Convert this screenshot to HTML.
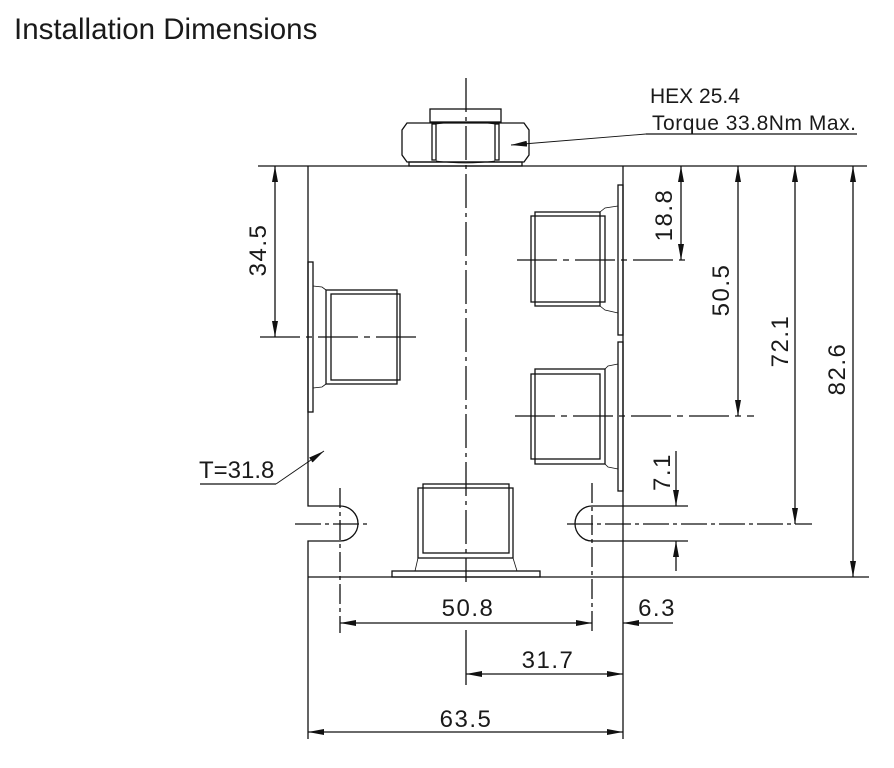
<!DOCTYPE html>
<html><head><meta charset="utf-8"><style>
html,body{margin:0;padding:0;background:#fff;}
svg{display:block;}
text{font-family:"Liberation Sans",Arial,sans-serif;fill:#1a1a1a;}
</style></head><body>
<svg width="894" height="768" viewBox="0 0 894 768" xmlns="http://www.w3.org/2000/svg">
<defs>
<marker id="a" viewBox="0 0 16 6" refX="16" refY="3" markerWidth="16" markerHeight="6" markerUnits="userSpaceOnUse" orient="auto-start-reverse">
<path d="M0,0 L16,3 L0,6 Z" fill="#111"/></marker>
</defs>
<text x="14" y="39" font-size="29.5">Installation Dimensions</text>

<g stroke="#111" stroke-width="1.3" fill="none">
<line x1="466" y1="78" x2="466" y2="582" stroke-dasharray="34,5,4,5"/>
<line x1="258" y1="166" x2="867" y2="166"/>
<line x1="308" y1="577" x2="869" y2="577"/>
<path d="M308,166 V506 H340 A18,17.5 0 0 1 340,541 H308 V577"/>
<line x1="623" y1="166" x2="623" y2="577"/>
<path d="M688,506 H592 A17,17.5 0 0 0 592,541 H688"/>
<path d="M402,130 L407,123 L524,123 L529,130 L529,155 L524,162 L407,162 L402,155 Z"/>
<path d="M436,124 Q466,120 495,124 M436,161 Q466,165 495,161" stroke-width="0.8"/>
<rect x="430" y="109" width="71" height="13"/>
<rect x="409" y="162" width="113" height="4"/>
<rect x="432" y="124" width="4" height="36"/>
<rect x="495" y="124" width="4" height="36"/>
<rect x="618" y="185" width="5" height="150"/>
<rect x="535" y="212" width="65" height="94"/>
<rect x="531" y="216" width="74" height="86"/>
<polyline points="600,212 605,208 618,206" stroke-width="0.8"/>
<polyline points="600,306 605,310 618,313" stroke-width="0.8"/>
<rect x="618" y="342" width="5" height="149"/>
<rect x="535" y="369" width="70" height="95"/>
<rect x="531" y="374" width="69" height="85"/>
<polyline points="605,369 608,366 618,364" stroke-width="0.8"/>
<polyline points="605,464 608,467 618,469" stroke-width="0.8"/>
<rect x="308" y="262" width="5" height="150"/>
<rect x="326" y="290" width="71" height="94"/>
<rect x="331" y="294" width="69" height="86"/>
<polyline points="326,290 322,287 313,286" stroke-width="0.8"/>
<polyline points="326,384 322,387 313,388" stroke-width="0.8"/>
<rect x="423" y="484" width="86" height="69"/>
<rect x="418" y="488" width="95" height="70"/>
<rect x="392" y="571" width="148" height="6"/>
<line x1="418" y1="558" x2="415" y2="571" stroke-width="0.8"/>
<line x1="513" y1="558" x2="517" y2="571" stroke-width="0.8"/>
<line x1="517" y1="260" x2="689" y2="260" stroke-dasharray="40,6,6,6"/>
<line x1="515" y1="416" x2="754" y2="416" stroke-dasharray="40,6,6,6"/>
<line x1="260" y1="337" x2="416" y2="337" stroke-dasharray="40,6,6,6"/>
<line x1="295" y1="524" x2="368" y2="524" stroke-dasharray="26,4,4,4"/>
<line x1="567" y1="524" x2="812" y2="524" stroke-dasharray="26,4,4,4"/>
<line x1="340" y1="488" x2="340" y2="633" stroke-dasharray="20,4,4,4"/>
<line x1="592" y1="483" x2="592" y2="633" stroke-dasharray="20,4,4,4"/>
<line x1="646" y1="134" x2="857" y2="134"/>
<line x1="646" y1="134" x2="511" y2="145" stroke-width="0.9" marker-end="url(#a)"/>
<line x1="200" y1="484" x2="276" y2="484"/>
<line x1="276" y1="484" x2="324" y2="451" stroke-width="0.9" marker-end="url(#a)"/>
<line x1="275" y1="166" x2="275" y2="337" marker-start="url(#a)" marker-end="url(#a)"/>
<line x1="681" y1="166" x2="681" y2="260" marker-start="url(#a)" marker-end="url(#a)"/>
<line x1="738" y1="166" x2="738" y2="416" marker-start="url(#a)" marker-end="url(#a)"/>
<line x1="795" y1="166" x2="795" y2="524" marker-start="url(#a)" marker-end="url(#a)"/>
<line x1="853" y1="166" x2="853" y2="577" marker-start="url(#a)" marker-end="url(#a)"/>
<line x1="676" y1="451" x2="676" y2="506" marker-end="url(#a)"/>
<line x1="676" y1="571" x2="676" y2="541" marker-end="url(#a)"/>
<line x1="340" y1="623" x2="592" y2="623" marker-start="url(#a)" marker-end="url(#a)"/>
<line x1="673" y1="623" x2="623" y2="623" marker-end="url(#a)"/>
<line x1="466" y1="630" x2="466" y2="685"/>
<line x1="466" y1="674" x2="623" y2="674" marker-start="url(#a)" marker-end="url(#a)"/>
<line x1="308" y1="577" x2="308" y2="739"/>
<line x1="623" y1="577" x2="623" y2="739"/>
<line x1="308" y1="732" x2="623" y2="732" marker-start="url(#a)" marker-end="url(#a)"/>
</g>

<text x="650" y="103" font-size="21">HEX 25.4</text>
<text x="652" y="130" font-size="21" textLength="204">Torque 33.8Nm Max.</text>
<text x="199" y="478" font-size="24">T=31.8</text>
<g font-size="24" text-anchor="middle" letter-spacing="1.5">
<text transform="translate(266,250) rotate(-90)">34.5</text>
<text transform="translate(672,215) rotate(-90)">18.8</text>
<text transform="translate(729,290) rotate(-90)">50.5</text>
<text transform="translate(788,341) rotate(-90)">72.1</text>
<text transform="translate(845,369) rotate(-90)">82.6</text>
<text transform="translate(670,472) rotate(-90)">7.1</text>
<text x="468" y="616">50.8</text>
<text x="657" y="616">6.3</text>
<text x="548" y="668">31.7</text>
<text x="466" y="727">63.5</text>
</g>
</svg>
</body></html>
